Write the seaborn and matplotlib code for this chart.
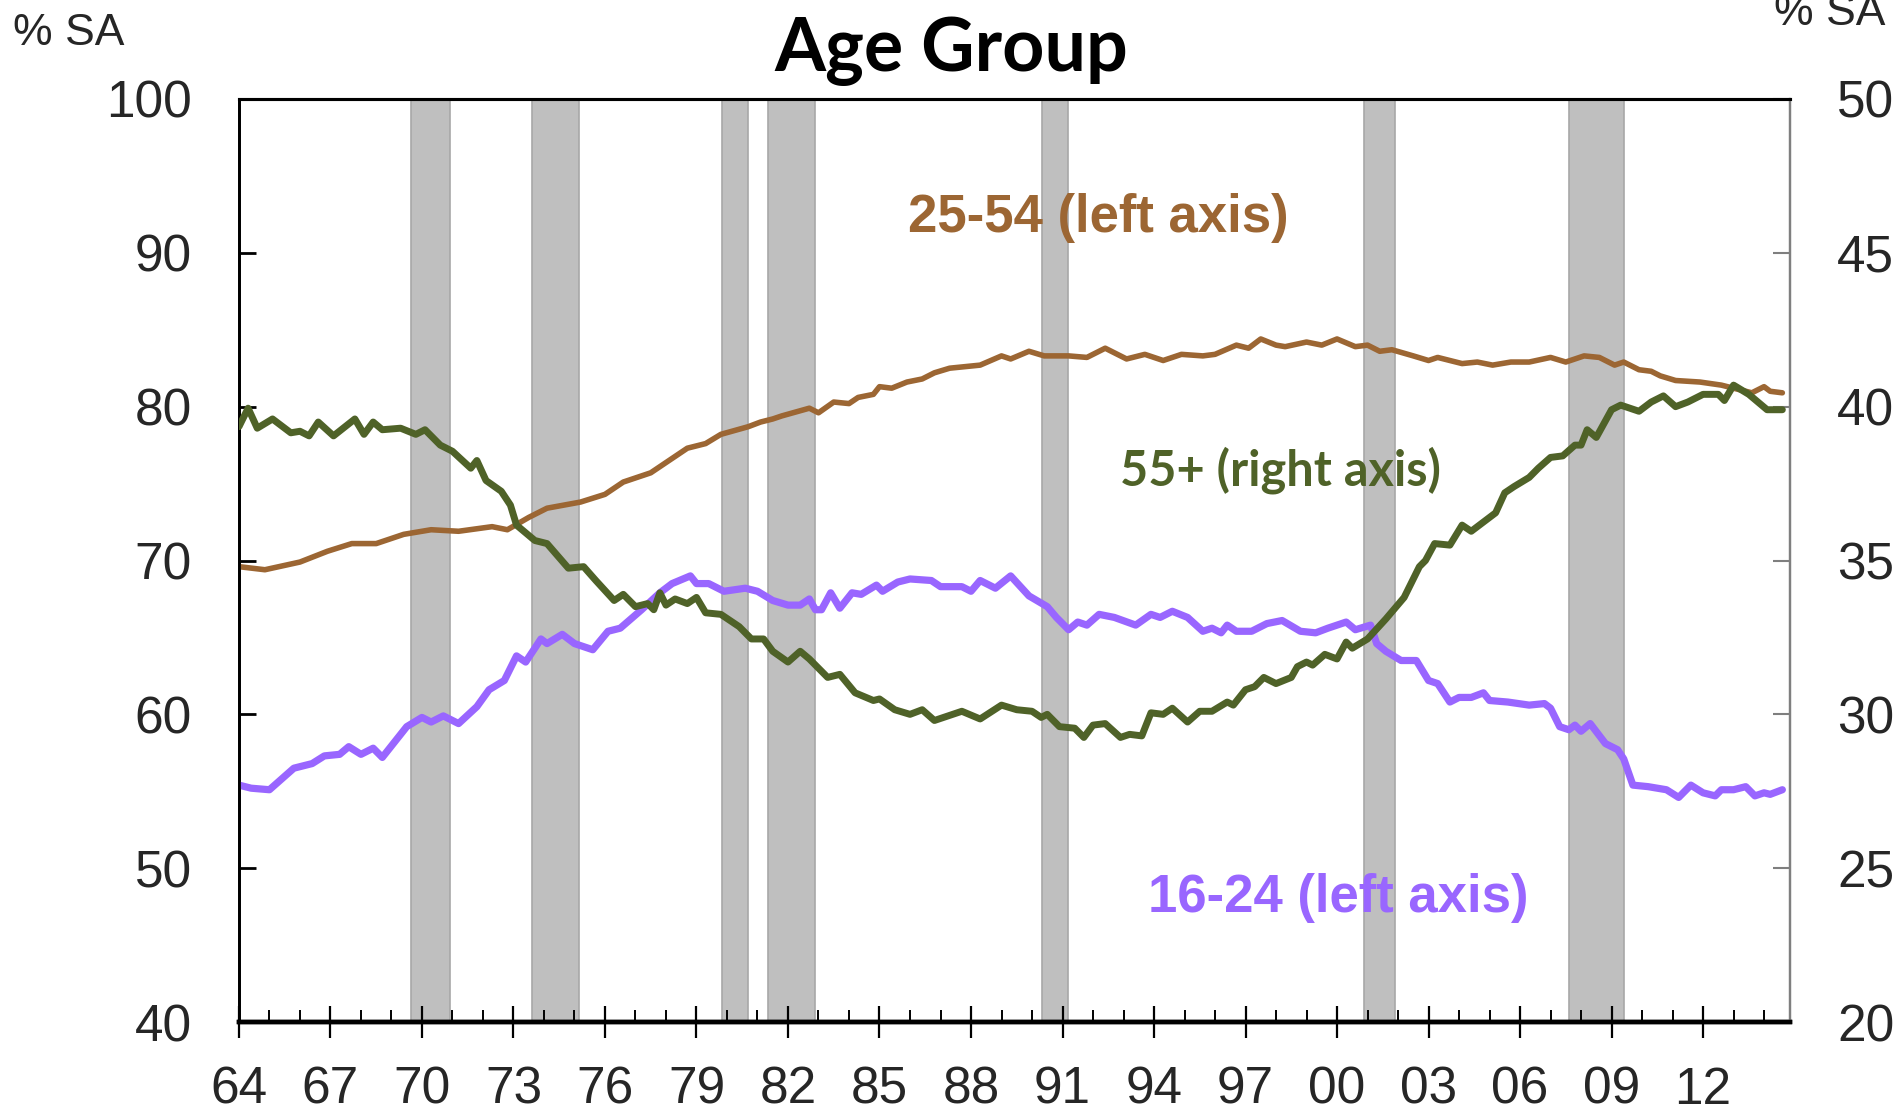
import numpy as np
import pandas as pd
import matplotlib
matplotlib.use("Agg")
import matplotlib.pyplot as plt
from matplotlib.ticker import MultipleLocator, FixedLocator
import seaborn as sns

# ── data ──────────────────────────────────────────────────────────────────────
yrs_2554 = [1964.0, 1964.85, 1966.0, 1966.9, 1967.7, 1968.5, 1969.4, 1970.3, 1971.2, 1972.3,
            1972.8, 1973.5, 1974.1, 1975.2, 1976.0, 1976.6, 1977.5, 1978.1, 1978.7, 1979.3,
            1979.8, 1980.7, 1981.1, 1981.5, 1981.8, 1982.7, 1983.0, 1983.5, 1984.0, 1984.3,
            1984.8, 1985.0, 1985.4, 1985.9, 1986.4, 1986.8, 1987.3, 1988.3, 1989.0, 1989.3,
            1989.9, 1990.4, 1991.2, 1991.8, 1992.4, 1993.1, 1993.7, 1994.3, 1994.9, 1995.6,
            1996.0, 1996.7, 1997.1, 1997.5, 1998.0, 1998.3, 1999.0, 1999.5, 2000.0, 2000.6,
            2001.0, 2001.4, 2001.8, 2002.5, 2003.0, 2003.3, 2004.1, 2004.6, 2005.1, 2005.7,
            2006.3, 2007.0, 2007.5, 2008.1, 2008.6, 2009.1, 2009.4, 2009.9, 2010.3, 2010.6,
            2011.1, 2011.9, 2012.6, 2013.2, 2013.6, 2014.0, 2014.2, 2014.6]
val_2554 = [69.6, 69.4, 69.9, 70.6, 71.1, 71.1, 71.7, 72.0, 71.9, 72.2,
            72.0, 72.8, 73.4, 73.8, 74.3, 75.1, 75.7, 76.5, 77.3, 77.6,
            78.2, 78.7, 79.0, 79.2, 79.4, 79.9, 79.6, 80.3, 80.2, 80.6,
            80.8, 81.3, 81.2, 81.6, 81.8, 82.2, 82.5, 82.7, 83.3, 83.1,
            83.6, 83.3, 83.3, 83.2, 83.8, 83.1, 83.4, 83.0, 83.4, 83.3,
            83.4, 84.0, 83.8, 84.4, 84.0, 83.9, 84.2, 84.0, 84.4, 83.9,
            84.0, 83.6, 83.7, 83.3, 83.0, 83.2, 82.8, 82.9, 82.7, 82.9,
            82.9, 83.2, 82.9, 83.3, 83.2, 82.7, 82.9, 82.4, 82.3, 82.0,
            81.7, 81.6, 81.4, 81.1, 80.9, 81.3, 81.0, 80.9]

yrs_55 = [1964.0, 1964.3, 1964.6, 1965.1, 1965.7, 1966.0, 1966.3, 1966.6, 1967.1, 1967.8,
          1968.1, 1968.4, 1968.7, 1969.3, 1969.8, 1970.1, 1970.6, 1971.0, 1971.6, 1971.8,
          1972.1, 1972.6, 1972.9, 1973.1, 1973.7, 1974.1, 1974.8, 1975.3, 1975.7, 1976.3,
          1976.6, 1977.0, 1977.4, 1977.6, 1977.8, 1978.0, 1978.3, 1978.7, 1979.0, 1979.3,
          1979.8, 1980.4, 1980.8, 1981.2, 1981.5, 1982.0, 1982.4, 1982.7, 1983.3, 1983.7,
          1984.2, 1984.8, 1985.0, 1985.5, 1986.0, 1986.4, 1986.8, 1987.7, 1988.3, 1989.0,
          1989.5, 1990.0, 1990.3, 1990.5, 1990.9, 1991.4, 1991.7, 1992.0, 1992.4, 1992.9,
          1993.2, 1993.6, 1993.9, 1994.3, 1994.6, 1995.1, 1995.5, 1995.9, 1996.4, 1996.6,
          1997.0, 1997.3, 1997.6, 1998.0, 1998.5, 1998.7, 1999.0, 1999.2, 1999.6, 2000.0,
          2000.3, 2000.5, 2001.0, 2001.6, 2002.2, 2002.7, 2002.9, 2003.2, 2003.7, 2004.1,
          2004.4, 2005.2, 2005.5, 2005.8, 2006.3, 2006.6, 2007.0, 2007.4, 2007.8, 2008.0,
          2008.2, 2008.5, 2009.0, 2009.3, 2009.9, 2010.3, 2010.7, 2011.1, 2011.5, 2012.0,
          2012.5, 2012.7, 2013.0, 2013.5, 2014.1, 2014.6]
val_55 = [39.35, 39.95, 39.3, 39.6, 39.15, 39.2, 39.05, 39.5, 39.05, 39.6,
          39.1, 39.5, 39.25, 39.3, 39.1, 39.25, 38.75, 38.55, 38.0, 38.25,
          37.6, 37.25, 36.8, 36.15, 35.65, 35.55, 34.75, 34.8, 34.35, 33.7,
          33.9, 33.5, 33.6, 33.4, 33.95, 33.55, 33.75, 33.6, 33.8, 33.3,
          33.25, 32.85, 32.45, 32.45, 32.05, 31.7, 32.05, 31.8, 31.2, 31.3,
          30.7, 30.45, 30.5, 30.15, 30.0, 30.15, 29.8, 30.1, 29.85, 30.3,
          30.15, 30.1, 29.9, 30.0, 29.6, 29.55, 29.25, 29.65, 29.7, 29.25,
          29.35, 29.3, 30.05, 30.0, 30.2, 29.75, 30.1, 30.1, 30.4, 30.3,
          30.8, 30.9, 31.2, 31.0, 31.2, 31.55, 31.7, 31.6, 31.95, 31.8,
          32.35, 32.15, 32.45, 33.1, 33.8, 34.8, 35.0, 35.55, 35.5, 36.15,
          35.95, 36.55, 37.2, 37.4, 37.7, 38.0, 38.35, 38.4, 38.75, 38.75,
          39.25, 39.0, 39.9, 40.05, 39.85, 40.15, 40.35, 40.0, 40.15, 40.4,
          40.4, 40.2, 40.7, 40.4, 39.9, 39.9]

yrs_1624 = [1964.0, 1964.4, 1965.0, 1965.4, 1965.8, 1966.4, 1966.8, 1967.3, 1967.6, 1968.0,
            1968.4, 1968.7, 1969.1, 1969.5, 1970.0, 1970.3, 1970.7, 1971.2, 1971.8, 1972.2,
            1972.7, 1973.1, 1973.4, 1973.9, 1974.1, 1974.6, 1975.0, 1975.6, 1976.1, 1976.5,
            1977.2, 1977.8, 1978.2, 1978.8, 1979.0, 1979.4, 1979.9, 1980.6, 1981.0, 1981.5,
            1982.0, 1982.4, 1982.7, 1982.9, 1983.1, 1983.4, 1983.7, 1984.1, 1984.4, 1984.9,
            1985.1, 1985.6, 1986.0, 1986.7, 1987.0, 1987.7, 1988.0, 1988.3, 1988.8, 1989.3,
            1989.9, 1990.5, 1990.8, 1991.2, 1991.5, 1991.8, 1992.2, 1992.7, 1993.4, 1993.9,
            1994.2, 1994.6, 1995.1, 1995.6, 1995.9, 1996.2, 1996.4, 1996.7, 1997.2, 1997.7,
            1998.2, 1998.8, 1999.3, 1999.7, 2000.3, 2000.6, 2001.1, 2001.3, 2001.6, 2002.1,
            2002.6, 2003.0, 2003.3, 2003.7, 2004.0, 2004.4, 2004.8, 2005.0, 2005.6, 2006.3,
            2006.8, 2007.0, 2007.3, 2007.6, 2007.8, 2008.0, 2008.3, 2008.8, 2009.2, 2009.4,
            2009.7, 2010.2, 2010.8, 2011.2, 2011.6, 2012.0, 2012.4, 2012.6, 2013.0, 2013.4,
            2013.7, 2014.0, 2014.2, 2014.6]
val_1624 = [55.4, 55.2, 55.1, 55.8, 56.5, 56.8, 57.3, 57.4, 57.9, 57.4,
            57.8, 57.2, 58.2, 59.2, 59.8, 59.5, 59.9, 59.4, 60.5, 61.6,
            62.2, 63.8, 63.4, 64.9, 64.6, 65.2, 64.6, 64.2, 65.4, 65.6,
            66.8, 67.9, 68.5, 69.0, 68.5, 68.5, 68.0, 68.2, 68.0, 67.4,
            67.1, 67.1, 67.5, 66.8, 66.8, 67.9, 66.9, 67.9, 67.8, 68.4,
            68.0, 68.6, 68.8, 68.7, 68.3, 68.3, 68.0, 68.7, 68.2, 69.0,
            67.7, 67.0, 66.3, 65.5, 66.0, 65.8, 66.5, 66.3, 65.8, 66.5,
            66.3, 66.7, 66.3, 65.4, 65.6, 65.3, 65.8, 65.4, 65.4, 65.9,
            66.1, 65.4, 65.3, 65.6, 66.0, 65.5, 65.8, 64.6, 64.1, 63.5,
            63.5, 62.2, 62.0, 60.8, 61.1, 61.1, 61.4, 60.9, 60.8, 60.6,
            60.7, 60.4, 59.2, 59.0, 59.3, 58.9, 59.4, 58.1, 57.7, 57.1,
            55.4, 55.3, 55.1, 54.6, 55.4, 54.9, 54.7, 55.1, 55.1, 55.3,
            54.7, 54.9, 54.8, 55.1]

# recession shading (start, end) in decimal years
rec_start = [1969.64, 1973.61, 1979.85, 1981.36, 1990.34, 2000.87, 2007.62]
rec_end   = [1970.91, 1975.16, 1980.69, 1982.87, 1991.18, 2001.90, 2009.41]

x_ticks  = list(range(1964, 2013, 3))
x_labels = [f"{y % 100:02d}" for y in x_ticks]

c_2554, c_55, c_1624 = "#9C6633", "#4F6228", "#9966FF"

# ── figure ────────────────────────────────────────────────────────────────────
sns.set_style("white")
plt.rcParams["font.family"] = ["Liberation Sans", "DejaVu Sans"]

fig = plt.figure(figsize=(19.01, 11.12), dpi=100)
ax = fig.add_axes([0.1257, 0.0809, 0.9416 - 0.1257, 0.911 - 0.0809])
ax2 = ax.twinx()

for s, e in zip(rec_start, rec_end):
    ax.axvspan(s, e, facecolor="#BFBFBF", edgecolor="#A8A8A8", lw=1.2, zorder=0)

sns.lineplot(x=yrs_2554, y=val_2554, ax=ax, color=c_2554, linewidth=4.0, zorder=3)
sns.lineplot(x=yrs_1624, y=val_1624, ax=ax, color=c_1624, linewidth=5.2, zorder=3)
sns.lineplot(x=yrs_55, y=val_55, ax=ax2, color=c_55, linewidth=5.0, zorder=3)

ax.set_xlim(1964, 2014.85)
ax.set_ylim(40, 100)
ax2.set_ylim(20, 50)
ax.yaxis.set_major_locator(MultipleLocator(10))
ax2.yaxis.set_major_locator(MultipleLocator(5))
ax.xaxis.set_major_locator(FixedLocator(x_ticks))
ax.xaxis.set_minor_locator(FixedLocator(range(1965, 2015)))
ax.set_xticklabels(x_labels)

ax.tick_params(axis="x", which="major", direction="inout", length=23, width=1.6,
               color="black", labelsize=37, pad=20, bottom=True)
ax.tick_params(axis="x", which="minor", direction="in", length=9, width=1.4,
               color="black", bottom=True)
ax.tick_params(axis="y", direction="in", length=12, width=2, color="black",
               labelsize=37, pad=34, left=True)
ax2.tick_params(axis="y", direction="in", length=12, width=1.5, color="#7F7F7F",
                labelsize=37, pad=34, right=True)

for a in (ax, ax2):
    a.set_xlabel("")
    a.set_ylabel("")
    for side in ["left", "bottom", "top"]:
        a.spines[side].set_color("black")
    a.spines["left"].set_linewidth(2)
    a.spines["top"].set_linewidth(2.2)
    a.spines["bottom"].set_linewidth(3.2)
    a.spines["right"].set_color("#7F7F7F")
    a.spines["right"].set_linewidth(1.6)

ax2.text(1985.93, 91.35, "25-54 (left axis)", transform=ax.transData, color=c_2554,
         fontsize=38, fontweight="bold", ha="left", va="baseline", zorder=10)
ax2.text(1993.8, 47.16, "16-24 (left axis)", transform=ax.transData, color=c_1624,
         fontsize=38, fontweight="bold", ha="left", va="baseline", zorder=10)
ax2.text(1992.9, 74.9, "55+ (right axis)", transform=ax.transData, color=c_55,
         fontsize=35, fontweight="bold", ha="left", va="baseline", zorder=10,
         family=["Lato", "DejaVu Sans"])

fig.text(0.5003, 1 - 70.7 / 1112, "Age Group", ha="center", va="baseline",
         fontsize=53, fontweight="bold", color="black", family=["Lato", "DejaVu Sans"])
fig.text(13 / 1901, 1 - 45 / 1112, "% SA", ha="left", va="baseline", fontsize=32)
fig.text(1774 / 1901, 1 - 25 / 1112, "% SA", ha="left", va="baseline", fontsize=32)

fig.savefig("out.png", dpi=100)
